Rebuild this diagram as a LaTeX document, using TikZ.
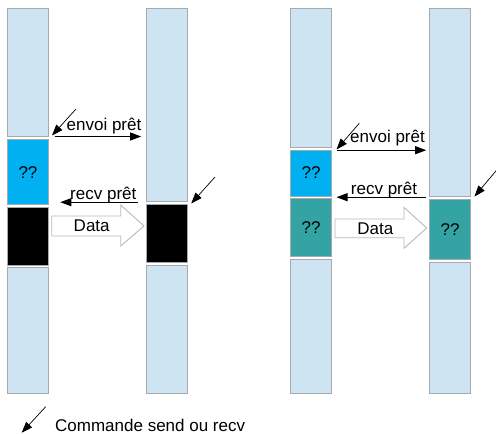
\documentclass[tikz,border=0pt]{standalone}
\usepackage{fontspec}
\setmainfont{Liberation Sans}
\usetikzlibrary{arrows.meta,calc}

\definecolor{lite}{RGB}{207,228,242}
\definecolor{cyanbuf}{RGB}{0,176,240}
\definecolor{tealbuf}{RGB}{51,163,163}
\definecolor{edge}{RGB}{165,170,176}

\begin{document}
\begin{tikzpicture}[x=1pt,y=-1pt,>={Triangle[length=11pt,width=8pt]},font=\fontsize{17}{20}\selectfont]
\useasboundingbox (0,0) rectangle (496,434);
\tikzstyle{seg}=[draw=edge,line width=1pt,minimum width=41pt,inner sep=0pt,fill=lite]
\tikzstyle{msg}=[->,line width=0.9pt]
\tikzstyle{cmd}=[->,line width=0.7pt]
\tikzstyle{lbl}=[anchor=base,inner sep=0pt]
\tikzstyle{big}=[draw=gray!55,line width=0.9pt,fill=white,line join=miter]
% buffer segments: name/x/top/bottom/colour
\foreach \n/\x/\ya/\yb/\col in {a1/28/8/136/lite,a2/28/139.7/204.7/cyanbuf,a3/28/207/265/black,a4/28/267.7/393.3/lite,
 b1/167.2/8/201.7/lite,b2/167.2/204.7/262.3/black,b3/167.2/265/393.3/lite,
 c1/311.2/8/147.3/lite,c2/311.2/150/196/cyanbuf,c3/311.2/198.7/256.3/tealbuf,c4/311.2/259.3/393.3/lite,
 d1/450.2/8/196/lite,d2/450.2/199/259.5/tealbuf,d3/450.2/262.3/393.3/lite} {
 \node[seg,fill=\col,minimum height={(\yb-\ya)*1pt}] (\n) at (\x,{(\ya+\yb)/2}) {};
}
\node (q1) at (a2) {??};
\node (q2) at (c2) {??};
\node (q3) at (c3) {??};
\node (q4) at (d2) {??};
% left: black buffer
\draw[msg] ($(a1.south east)+(5.5,0)$) -- ($(b1.west |- a1.south)+(-5,0)$);
\node[lbl] (env1) at (104,130.7) {envoi prêt};
\draw[msg] ($(b1.south west)+(-8.7,0)$) -- ($(a2.east |- b1.south)+(11.3,0)$);
\node[lbl] (rcv1) at (103.3,199.3) {recv prêt};
\draw[big] (51.7,216) -- (120.7,216) -- (120.7,205) -- (144,226) -- (120.7,246) -- (120.7,236) -- (51.7,236) -- cycle;
\node[lbl] (dat1) at (91.7,231) {Data};
% right: teal buffer
\draw[msg] ($(c2.north east)+(4.3,0.7)$) -- ($(d1.west |- c2.north)+(-3,0.7)$);
\node[lbl] (env2) at (387.5,142.3) {envoi prêt};
\draw[msg] ($(d1.south west)+(-3,0.7)$) -- ($(c2.east |- d1.south)+(4.3,0.7)$);
\node[lbl] (rcv2) at (384,194) {recv prêt};
\draw[big] (335,219) -- (404,219) -- (404,207.3) -- (426.7,228) -- (404,248.3) -- (404,237.7) -- (335,237.7) -- cycle;
\node[lbl] (dat2) at (375.3,234) {Data};
% send / recv commands
\coordinate (k1) at (76,109);
\coordinate (k2) at (215,177);
\coordinate (k3) at (359.3,123.3);
\coordinate (k4) at (496.7,170);
\draw[cmd] (k1) -- ($(a1.south east)+(3,-1)$);
\draw[cmd] (k2) -- ($(b2.north east)+(3,-0.7)$);
\draw[cmd] (k3) -- ($(c1.south east)+(4.3,1.7)$);
\draw[cmd] (k4) -- ($(d1.south east)+(3.3,0)$);
\coordinate (k5) at (45.7,406.7);
\coordinate (k6) at (21.7,432.7);
\draw[cmd] (k5) -- (k6);
\node[lbl,anchor=base west] (legend) at (55,431) {Commande send ou recv};
\end{tikzpicture}
\end{document}
